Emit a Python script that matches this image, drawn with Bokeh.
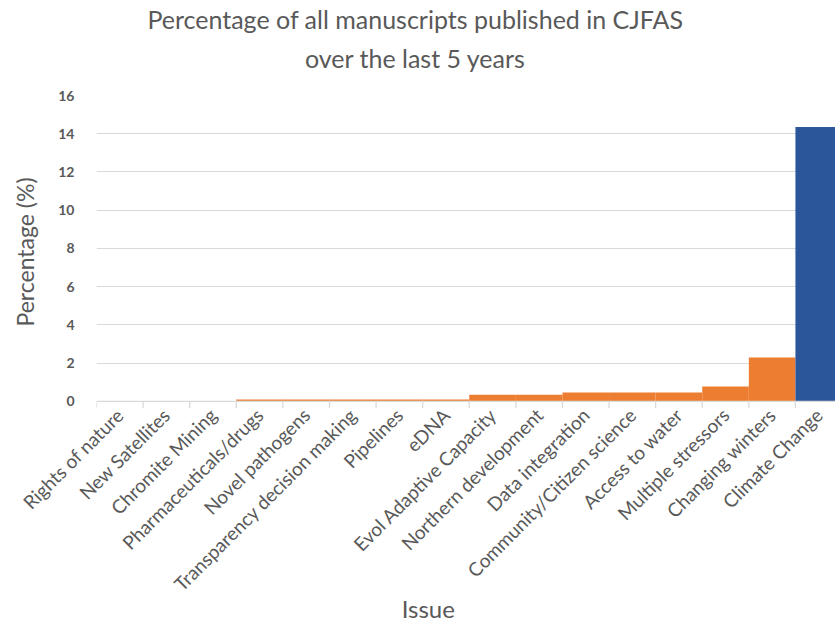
import math
from bokeh.plotting import figure
from bokeh.models import Range1d, FixedTicker, LinearAxis, Span
from bokeh.embed import file_html
from bokeh.resources import INLINE

issues = ["Rights of nature", "New Satellites", "Chromite Mining", "Pharmaceuticals/drugs",
          "Novel pathogens", "Transparency decision making", "Pipelines", "eDNA",
          "Evol Adaptive Capacity", "Northern development", "Data integration",
          "Community/Citizen science", "Access to water", "Multiple stressors",
          "Changing winters", "Climate Change"]
percent = [0.0, 0.0, 0.0, 0.1, 0.1, 0.1, 0.1, 0.1, 0.35, 0.35, 0.47, 0.47, 0.47, 0.78, 2.3, 14.35]
colors = ["#ED7D31"] * 15 + ["#2B579A"]
y_ticks = [0, 2, 4, 6, 8, 10, 12, 14, 16]
title_lines = ["Percentage of all manuscripts published in CJFAS", "over the last 5 years"]
x_title = "Issue"

FONT = "Lato"
GREY = "#595959"
LIGHT = "#D9D9D9"

centers = [i + 0.5 for i in range(len(issues))]
bounds = list(range(len(issues) + 1))
TICK_LEN = 0.37      # length of boundary tick marks below the axis, in y units
X_END = 15.86        # the right edge of the chart cuts through the last bar
TITLE_X = 6.845      # horizontal centre of the chart titles, in x units
XTITLE_X = 7.12      # horizontal centre of the x-axis title, in x units

p = figure(width=835, height=625, output_backend="svg", toolbar_location=None,
           x_range=Range1d(0, X_END), y_range=Range1d(-TICK_LEN, 16),
           min_border_left=96, min_border_right=0, min_border_top=95, min_border_bottom=0,
           outline_line_color=None, x_axis_location=None)

p.vbar(x=centers, top=percent, width=1.0, fill_color=colors, line_color=None)

# axis line and category boundary tick marks
p.add_layout(Span(location=0, dimension="width", line_color=LIGHT, line_width=1.3))
p.segment(x0=bounds, x1=bounds, y0=[0] * len(bounds), y1=[-TICK_LEN] * len(bounds),
          line_color=LIGHT, line_width=1.3)

# y axis
p.yaxis.ticker = FixedTicker(ticks=y_ticks)
p.yaxis.axis_line_color = None
p.yaxis.major_tick_line_color = None
p.yaxis.minor_tick_line_color = None
p.yaxis.major_label_text_font = FONT
p.yaxis.major_label_text_font_style = "bold"
p.yaxis.major_label_text_font_size = "14px"
p.yaxis.major_label_text_color = GREY
p.yaxis.major_label_standoff = 16
p.yaxis.axis_label = "Percentage (%)"
p.yaxis.axis_label_text_font = FONT
p.yaxis.axis_label_text_font_style = "normal"
p.yaxis.axis_label_text_font_size = "23px"
p.yaxis.axis_label_text_color = GREY
p.yaxis.axis_label_standoff = 16

p.ygrid.ticker = FixedTicker(ticks=[t for t in y_ticks if t > 0])
p.ygrid.grid_line_color = LIGHT
p.xgrid.grid_line_color = None


def text_axis(ticks, labels, size, standoff, **kw):
    return LinearAxis(ticker=FixedTicker(ticks=ticks),
                      major_label_overrides=dict(zip(ticks, labels)),
                      major_label_text_font=FONT, major_label_text_font_size=size,
                      major_label_text_color=GREY, major_label_standoff=standoff,
                      axis_line_color=None, major_tick_line_color=None,
                      minor_tick_line_color=None, major_tick_out=0, major_tick_in=0, **kw)


# x axis: category labels at bar centres
p.add_layout(text_axis(centers, issues, "19px", 3, major_label_orientation=math.pi / 4), "below")
# x axis title
p.add_layout(text_axis([XTITLE_X], [x_title], "24px", -13), "below")

# chart title (two lines), closest line first
p.add_layout(text_axis([TITLE_X], [title_lines[1]], "25px", 23), "above")
p.add_layout(text_axis([TITLE_X], [title_lines[0]], "25px", 6), "above")

open("out.html", "w").write(file_html(p, INLINE))
